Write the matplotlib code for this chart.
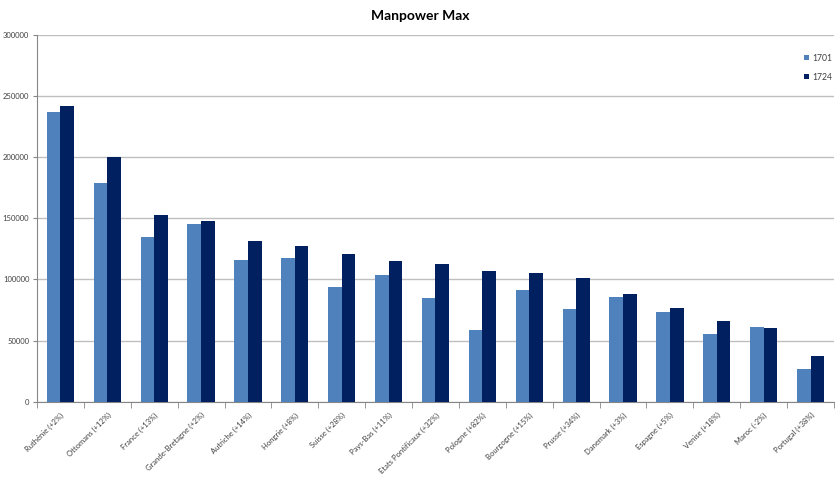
import matplotlib
matplotlib.use("Agg")
import matplotlib.pyplot as plt
import numpy as np

categories = ["Ruthénie (+2%)", "Ottomans (+12%)", "France (+13%)", "Grande-Bretagne (+2%)",
              "Autriche (+14%)", "Hongrie (+8%)", "Suisse (+28%)", "Pays-Bas (+11%)",
              "Etats Pontificaux (+32%)", "Pologne (+82%)", "Bourgogne (+15%)", "Prusse (+34%)",
              "Danemark (+3%)", "Espagne (+5%)", "Venise (+18%)", "Maroc (-2%)", "Portugal (+38%)"]
v1701 = [236800, 178700, 134800, 145400, 115900, 117300, 94100, 103400,
         84800, 58650, 91400, 75600, 85400, 73400, 55700, 61400, 27100]
v1724 = [242000, 200200, 152800, 148100, 131500, 127400, 121100, 114800,
         112400, 106700, 105600, 100900, 87800, 76900, 65700, 60300, 37300]
yticks = [0, 50000, 100000, 150000, 200000, 250000, 300000]

plt.rcParams['font.family'] = ['Lato', 'DejaVu Sans']

fig = plt.figure(figsize=(8.4, 4.79), dpi=100)
ax = fig.add_axes([37/840, 1-401.7/479, (834-37)/840, (401.7-35)/479])

x = np.arange(len(categories))
w = 0.29
ax.bar(x - w/2, v1701, width=w, color="#4F81BD", label="1701", zorder=3)
ax.bar(x + w/2, v1724, width=w, color="#002060", label="1724", zorder=3)

ax.set_xlim(-0.5, len(categories) - 0.5)
ax.set_ylim(0, 300000)
ax.set_yticks(yticks)
ax.set_yticklabels([str(t) for t in yticks], fontsize=5.5, color="#404040")
ax.yaxis.grid(True, color="#BFBFBF", linewidth=1, zorder=0)
ax.set_axisbelow(True)

ax.set_xticks(x)
ax.set_xticklabels(categories, rotation=45, ha="right", rotation_mode="anchor",
                   fontsize=5.5, color="#404040")
ax.tick_params(axis="x", which="major", length=0, pad=7)
ax.set_xticks(np.arange(-0.5, len(categories)), minor=True)
ax.tick_params(axis="x", which="minor", length=4, color="#868686", direction="out")
ax.tick_params(axis="y", length=3, color="#868686", pad=2.5)

for s in ["top", "right"]:
    ax.spines[s].set_visible(False)
for s in ["left", "bottom"]:
    ax.spines[s].set_color("#868686")
    ax.spines[s].set_linewidth(0.8)

leg = ax.legend(loc="upper right", bbox_to_anchor=(1.008, 0.97), frameon=False,
                fontsize=6.2, handlelength=0.6, handleheight=0.6, handletextpad=0.4,
                labelspacing=1.15)
for t in leg.get_texts():
    t.set_color("#404040")

fig.text(0.5, 1-16/479, "Manpower Max", ha="center", va="center",
         fontsize=10, fontweight="bold", color="#000000")

fig.savefig("out.png", dpi=100)
